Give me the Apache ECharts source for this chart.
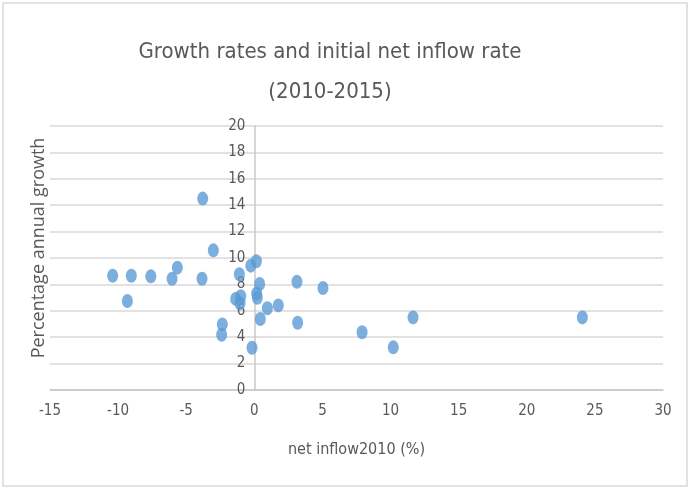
<!DOCTYPE html>
<html>
<head>
<meta charset="utf-8">
<script src="https://cdn.jsdelivr.net/npm/echarts@6/dist/echarts.min.js"></script>
<style>
  html, body { margin: 0; padding: 0; background: #fff; }
  #chart { width: 691px; height: 490px; }
</style>
</head>
<body>
<div id="chart"></div>
<script>
// Net inflow in 2010 (%) per observation
const netInflow = [
  -10.4, -9.03, -9.32, -7.6, -6.04, -5.65, -3.79, -3.84, -3.01, -1.1,
  -2.35, -2.4, -1.37, -1.0, -1.05, -0.17, -0.26, 0.15, 0.39, 0.17,
  0.22, 0.44, 0.96, 1.76, 3.13, 5.04, 3.18, 7.91, 10.2, 11.65, 24.08
];
// Percentage annual growth 2010-2015 per observation
const annualGrowth = [
  8.66, 8.66, 6.74, 8.61, 8.43, 9.27, 14.5, 8.43, 10.58, 8.77,
  4.97, 4.19, 6.9, 7.1, 6.57, 3.2, 9.42, 9.75, 8.03, 7.32,
  6.99, 5.38, 6.19, 6.41, 8.2, 7.73, 5.1, 4.37, 3.23, 5.5, 5.5
];
const xTicks = { min: -15, max: 30, step: 5 };
const yTicks = { min: 0, max: 20, step: 2 };

const points = netInflow.map((x, i) => [x, annualGrowth[i]]);

const font = '"Liberation Sans Narrow", "DejaVu Sans Condensed", "Open Sans", sans-serif';
const grey = '#595959';

// plot area
const gridLeft = 50, gridRight = 28;
const plotWidth = 691 - gridLeft - gridRight;
// the vertical axis crosses at x = 0, so shift it right by that fraction of the plot width
const yAxisShift = plotWidth * (0 - xTicks.min) / (xTicks.max - xTicks.min);

const chart = echarts.init(document.getElementById('chart'));
chart.setOption({
  animation: false,
  backgroundColor: '#ffffff',
  title: {
    text: 'Growth rates and initial net inflow rate\n(2010-2015)',
    left: 325,
    top: 27,
    textAlign: 'center',
    textStyle: {
      fontFamily: font,
      fontSize: 22,
      fontWeight: 'normal',
      color: grey,
      lineHeight: 40
    }
  },
  grid: { left: gridLeft, right: gridRight, top: 126, bottom: 100 },
  xAxis: {
    type: 'value',
    min: xTicks.min,
    max: xTicks.max,
    interval: xTicks.step,
    name: 'net inflow2010 (%)',
    nameLocation: 'middle',
    nameGap: 52,
    nameTextStyle: { fontFamily: font, fontSize: 16, color: grey },
    axisLine: { show: true, lineStyle: { color: '#c8c8c8', width: 1.5 } },
    axisTick: { show: false },
    splitLine: { show: false },
    axisLabel: { fontFamily: font, fontSize: 15, color: grey, margin: 14 }
  },
  yAxis: {
    type: 'value',
    min: yTicks.min,
    max: yTicks.max,
    interval: yTicks.step,
    offset: -yAxisShift,
    axisLine: { show: true, onZero: false, lineStyle: { color: '#c8c8c8', width: 1.5 } },
    axisTick: { show: false },
    splitLine: { show: true, lineStyle: { color: '#d9d9d9', width: 1.5 } },
    axisLabel: { fontFamily: font, fontSize: 15, color: grey, margin: 9 }
  },
  graphic: [
    {
      type: 'text',
      x: 39,
      y: 248,
      rotation: Math.PI / 2,
      style: {
        text: 'Percentage annual growth',
        fontFamily: '"Open Sans", "DejaVu Sans", sans-serif',
        fontSize: 18,
        fill: grey,
        align: 'center',
        verticalAlign: 'middle'
      }
    },
    {
      type: 'rect',
      shape: { x: 3, y: 3, width: 684, height: 483 },
      style: { fill: 'none', stroke: '#d9d9d9', lineWidth: 1.5 },
      silent: true
    }
  ],
  series: [{
    type: 'scatter',
    data: points,
    symbol: 'circle',
    symbolSize: [11, 14],
    itemStyle: { color: '#5b9bd5' }
  }]
});
</script>
</body>
</html>
